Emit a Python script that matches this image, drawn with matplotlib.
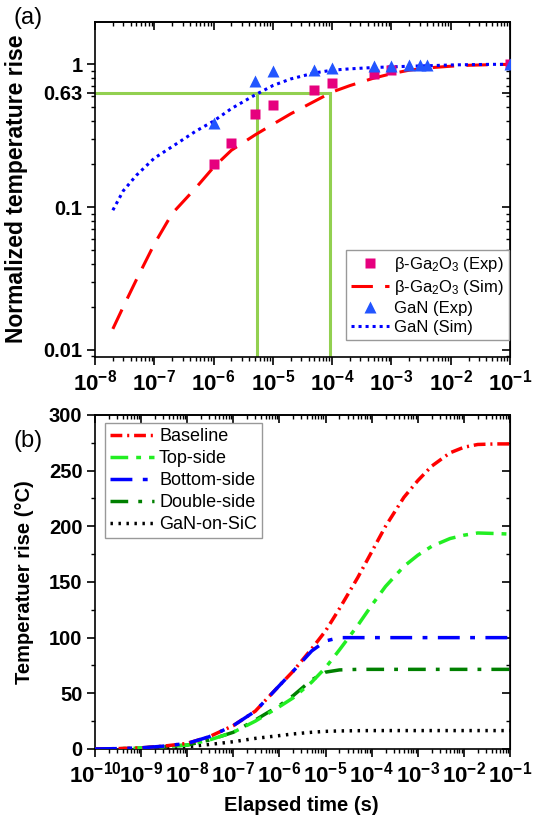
import numpy as np
import matplotlib
matplotlib.use('Agg')
import matplotlib.pyplot as plt
from matplotlib.ticker import LogLocator, NullFormatter, FixedLocator, MultipleLocator

plt.rcParams['font.family'] = ['Liberation Sans', 'DejaVu Sans']
plt.rcParams['mathtext.fontset'] = 'custom'
plt.rcParams['mathtext.rm'] = 'Liberation Sans'
plt.rcParams['mathtext.bf'] = 'Liberation Sans:bold'
plt.rcParams['mathtext.it'] = 'Liberation Sans:italic'

# ---------------- (a) normalized temperature rise ----------------
ga_exp_t = [1e-6, 2e-6, 5e-6, 1e-5, 5e-5, 1e-4, 5e-4, 1e-3, 1e-1]
ga_exp_y = [0.20, 0.28, 0.45, 0.52, 0.66, 0.74, 0.86, 0.91, 1.0]

gan_exp_t = [1e-6, 5e-6, 1e-5, 5e-5, 1e-4, 5e-4, 1e-3, 2e-3, 3e-3, 4e-3, 1e-1]
gan_exp_y = [0.39, 0.76, 0.90, 0.91, 0.94, 0.97, 0.97, 0.99, 0.99, 0.99, 1.0]

sim_t = [2e-8, 3e-8, 5e-8, 1e-7, 2e-7, 5e-7, 1e-6, 2e-6, 5e-6, 1e-5, 2e-5, 5e-5,
         1e-4, 2e-4, 5e-4, 1e-3, 2e-3, 5e-3, 1e-2, 2e-2, 5e-2, 1e-1]
ga_sim_y = [0.014, 0.020, 0.031, 0.055, 0.09, 0.136, 0.19, 0.25, 0.32, 0.38, 0.45, 0.55,
            0.64, 0.71, 0.80, 0.86, 0.91, 0.95, 0.97, 0.985, 0.995, 1.0]
gan_sim_y = [0.095, 0.13, 0.167, 0.22, 0.265, 0.34, 0.40, 0.49, 0.61, 0.71, 0.79, 0.87,
             0.91, 0.93, 0.95, 0.96, 0.97, 0.98, 0.99, 0.995, 1.0, 1.0]

level = 0.63
tau_gan = 5.5e-6
tau_ga = 9.1e-5

# ---------------- (b) temperature rise ----------------
t_b = [1e-10, 3e-10, 1e-9, 3e-9, 1e-8, 3e-8, 1e-7, 3e-7, 1e-6, 2e-6, 5e-6, 1e-5,
       2e-5, 5e-5, 1e-4, 2e-4, 5e-4, 1e-3, 2e-3, 5e-3, 1e-2, 2e-2, 5e-2, 1e-1]
baseline = [0, 0.3, 1, 2.5, 5, 11, 21, 34, 57, 70, 90, 106,
            126, 154, 177, 200, 226, 241, 254, 266, 271, 273.5, 274, 274]
topside = [0, 0.2, 0.8, 2, 3.5, 8, 15, 25, 38, 46, 60, 73,
           89, 111, 129, 146, 164, 174, 182, 189, 192, 194, 193.5, 193]
bottomside = [0, 0.3, 1, 2.5, 5, 11, 21, 34, 57, 70, 88, 97,
              100, 100, 100, 100, 100, 100, 100, 100, 100, 100, 100, 100]
doubleside = [0, 0.2, 0.8, 2, 3.5, 8, 15, 26, 39, 48, 62, 69,
              71, 71.5, 71.5, 71.5, 71.5, 71.5, 71.5, 71.5, 71.5, 71.5, 71.5, 71.5]
gan_sic = [0, 0.1, 0.4, 1, 2, 4, 6.5, 9.5, 12, 13.5, 15, 15.8,
           16.2, 16.4, 16.5, 16.5, 16.5, 16.5, 16.5, 16.5, 16.5, 16.5, 16.5, 16.5]

fig = plt.figure(figsize=(5.37, 8.18), dpi=100)
ax1 = fig.add_axes([0.1769, 0.5636, 0.7728, 0.4095])
ax2 = fig.add_axes([0.1769, 0.0844, 0.7728, 0.4083])


def style_log_x(ax, exps):
    ax.set_xscale('log')
    ax.set_xlim(10.0 ** exps[0], 10.0 ** exps[-1])
    ax.xaxis.set_major_locator(FixedLocator([10.0 ** e for e in exps]))
    ax.xaxis.set_minor_locator(LogLocator(base=10, subs=np.arange(2, 10), numticks=30))
    ax.xaxis.set_minor_formatter(NullFormatter())
    ax.set_xticklabels([r'$\mathbf{10^{%d}}$' % e for e in exps], fontsize=16)
    sec = ax.secondary_xaxis('top')
    sec.xaxis.set_major_locator(FixedLocator([10.0 ** e for e in exps]))
    sec.xaxis.set_minor_locator(LogLocator(base=10, subs=np.arange(2, 10), numticks=30))
    sec.xaxis.set_major_formatter(NullFormatter())
    sec.xaxis.set_minor_formatter(NullFormatter())
    sec.tick_params(which='major', direction='in', length=6, width=1.2)
    sec.tick_params(which='minor', direction='in', length=3, width=1.0)
    sec.spines['top'].set_linewidth(1.2)
    return sec


for ax in (ax1, ax2):
    for sp in ax.spines.values():
        sp.set_linewidth(1.2)
    ax.tick_params(which='major', direction='out', length=6, width=1.2, pad=3)
    ax.tick_params(which='minor', direction='out', length=3, width=1.0)
    ax.tick_params(axis='both', right=False, top=False)

# ---- panel (a)
style_log_x(ax1, list(range(-8, 0)))
ax1.set_yscale('log')
ax1.set_ylim(0.0089, 1.98)
yt = [0.01, 0.1, level, 1]
ax1.set_yticks(yt)
ax1.set_yticklabels(['0.01', '0.1', '0.63', '1'], fontsize=14.5, fontweight='bold')
ax1.yaxis.set_minor_locator(LogLocator(base=10, subs=np.arange(2, 10), numticks=30))
ax1.yaxis.set_minor_formatter(NullFormatter())
secy = ax1.secondary_yaxis('right')
secy.set_yticks(yt)
secy.yaxis.set_minor_locator(LogLocator(base=10, subs=np.arange(2, 10), numticks=30))
secy.yaxis.set_major_formatter(NullFormatter())
secy.yaxis.set_minor_formatter(NullFormatter())
secy.tick_params(which='major', direction='in', length=6, width=1.2)
secy.tick_params(which='minor', direction='in', length=3, width=1.0)

x0 = ax1.get_xlim()[0]
y0 = ax1.get_ylim()[0]
gcol = '#92d050'
ax1.plot([x0, tau_ga], [level, level], color=gcol, lw=2.2, zorder=1)
ax1.plot([tau_gan, tau_gan], [y0, level], color=gcol, lw=2.2, zorder=1)
ax1.plot([tau_ga, tau_ga], [y0, level], color=gcol, lw=2.2, zorder=1)

ax1.plot(ga_exp_t, ga_exp_y, 's', color='#e6007e', ms=7.5, mec='none', zorder=4,
         label='β-Ga$_2$O$_3$ (Exp)')
ax1.plot(sim_t, ga_sim_y, color='#ff0000', lw=2.2, dashes=(7, 4), zorder=3,
         label='β-Ga$_2$O$_3$ (Sim)')
ax1.plot(gan_exp_t, gan_exp_y, '^', color='#2255ff', ms=9, mec='none', zorder=4,
         label='GaN (Exp)')
ax1.plot(sim_t, gan_sim_y, color='#0000ff', lw=2.2, ls=(0, (1, 1.3)), zorder=3,
         label='GaN (Sim)')
ax1.set_ylabel('Normalized temperature rise', fontsize=16.5, fontweight='bold')
ax1.yaxis.set_label_coords(-0.161, 0.503)
leg1 = ax1.legend(loc='lower right', bbox_to_anchor=(0.997, 0.05), borderaxespad=0,
                  fontsize=12, handlelength=2.3, labelspacing=0.25, borderpad=0.3,
                  handletextpad=0.3, fancybox=False, framealpha=1)
leg1.get_frame().set_edgecolor('#999999')
leg1.get_frame().set_linewidth(1.0)

# ---- panel (b)
style_log_x(ax2, list(range(-10, 0)))
ax2.set_ylim(0, 300)
ax2.yaxis.set_major_locator(MultipleLocator(50))
ax2.yaxis.set_minor_locator(MultipleLocator(25))
for lab in ax2.get_yticklabels():
    lab.set_fontsize(14.5)
    lab.set_fontweight('bold')
secy2 = ax2.secondary_yaxis('right')
secy2.yaxis.set_major_locator(MultipleLocator(50))
secy2.yaxis.set_minor_locator(MultipleLocator(25))
secy2.yaxis.set_major_formatter(NullFormatter())
secy2.tick_params(which='major', direction='in', length=6, width=1.2)
secy2.tick_params(which='minor', direction='in', length=3, width=1.0)

lw = 2.5
ax2.plot(t_b, gan_sic, color='black', lw=lw, ls=(0, (0.7, 1.6)), label='GaN-on-SiC', zorder=2)
ax2.plot(t_b, doubleside, color='#008000', lw=lw, dashes=(5.1, 2.9, 1.1, 2.9), label='Double-side', zorder=3)
ax2.plot(t_b, topside, color='#22ee22', lw=lw, dashes=(5.1, 2.3, 1.4, 2.3), label='Top-side', zorder=3)
ax2.plot(t_b, bottomside, color='#0000ff', lw=lw, dashes=(6.3, 3, 1.4, 3), label='Bottom-side', zorder=4)
ax2.plot(t_b, baseline, color='#ff0000', lw=lw, dashes=(3.4, 1.4, 0.6, 1.4), label='Baseline', zorder=3)

h, l = ax2.get_legend_handles_labels()
order = [4, 2, 3, 1, 0]
leg2 = ax2.legend([h[i] for i in order], [l[i] for i in order], loc='upper left',
                  bbox_to_anchor=(0.024, 0.976), borderaxespad=0, fontsize=13,
                  handlelength=2.4, labelspacing=0.27, borderpad=0.3,
                  handletextpad=0.3, fancybox=False, framealpha=1)
leg2.get_frame().set_edgecolor('#999999')
leg2.get_frame().set_linewidth(1.0)

ax2.set_ylabel('Temperatuer rise (°C)', fontsize=14.5, fontweight='bold')
ax2.yaxis.set_label_coords(-0.147, 0.4985)
ax2.set_xlabel('Elapsed time (s)', fontsize=14.5, fontweight='bold')
ax2.xaxis.set_label_coords(0.498, -0.142)

fig.text(0.0255, 0.992, '(a)', fontsize=17, va='top', ha='left')
fig.text(0.0255, 0.474, '(b)', fontsize=17, va='top', ha='left')

fig.savefig('out.png', dpi=100)
